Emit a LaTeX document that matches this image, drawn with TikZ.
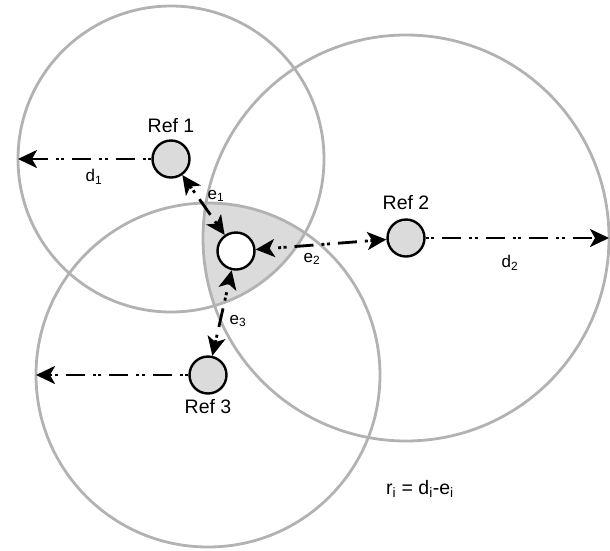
\documentclass[tikz,border=0pt]{standalone}
\usepackage{fontspec}
\setmainfont{Liberation Sans}
\usetikzlibrary{arrows.meta, positioning}

\tikzset{
  ring/.style={draw=black!30, line width=2.8pt},
  refnode/.style={circle, draw=black, line width=2.4pt, fill=black!14, minimum size=37pt, inner sep=0pt},
  dline/.style={line width=2.8pt, dash pattern=on 3pt off 2.5pt on 3pt off 8pt on 19pt off 8pt},
  lbl/.style={font=\fontsize{19.5}{21}\selectfont, inner sep=0pt},
  sublbl/.style={font=\fontsize{17}{19}\selectfont, inner sep=0pt}
}

\begin{document}
\begin{tikzpicture}[x=1pt, y=-1pt, >={Stealth[length=19pt, width=18pt, inset=5pt]}]
	\useasboundingbox (0,0) rectangle (610,550);
	% centres of the reference points and the unknown one
	\coordinate (c1) at (171,159);
	\coordinate (c2) at (406,238);
	\coordinate (c3) at (208,375);
	\coordinate (cx) at (236,251);
	
	% area common to the three ranges
	\begin{scope}
		\clip (c1) circle (153pt);
		\clip (c2) circle (203pt);
		\fill[black!14] (c3) circle (172pt);
	\end{scope}
	
	% ranges
	\draw[ring] (c1) circle (153pt);
	\draw[ring] (c2) circle (203pt);
	\draw[ring] (c3) circle (172pt);
	
	\node[refnode] (ref1) at (c1) {};
	\node[refnode] (ref2) at (c2) {};
	\node[refnode] (ref3) at (c3) {};
	\node[refnode, fill=white] (xnode) at (cx) {};
	
	\node[lbl, above=6pt of ref1] (ref1lbl) {Ref 1};
	\node[lbl, above=8pt of ref2] (ref2lbl) {Ref 2};
	\node[lbl, below=4pt of ref3] (ref3lbl) {Ref 3};
	
	% ends of the distances
	\coordinate (d1end) at (18,159);
	\coordinate (d2end) at (609,238);
	\coordinate (d3end) at (36,375);
	
	\draw[dline, ->] (ref1) -- (d1end);
	\draw[dline, ->] (ref2) -- (d2end);
	\draw[dline, ->] (ref3) -- (d3end);
	
	% errors
	\draw[dline, <->] (ref1) -- (xnode);
	\draw[dline, <->] (ref2) -- (xnode);
	\draw[dline, <->] (ref3) -- (xnode);
	
	\node[sublbl] (d1lbl) at (94,177) {d\textsubscript{1}};
	\node[sublbl] (d2lbl) at (510,263) {d\textsubscript{2}};
	\node[sublbl] (e1lbl) at (216,196) {e\textsubscript{1}};
	\node[sublbl] (e2lbl) at (312,259) {e\textsubscript{2}};
	\node[sublbl] (e3lbl) at (238,321) {e\textsubscript{3}};
	
	\node[lbl, anchor=base west] (rule) at (386,494) {r\textsubscript{i} = d\textsubscript{i}-e\textsubscript{i}};
\end{tikzpicture}
\end{document}
